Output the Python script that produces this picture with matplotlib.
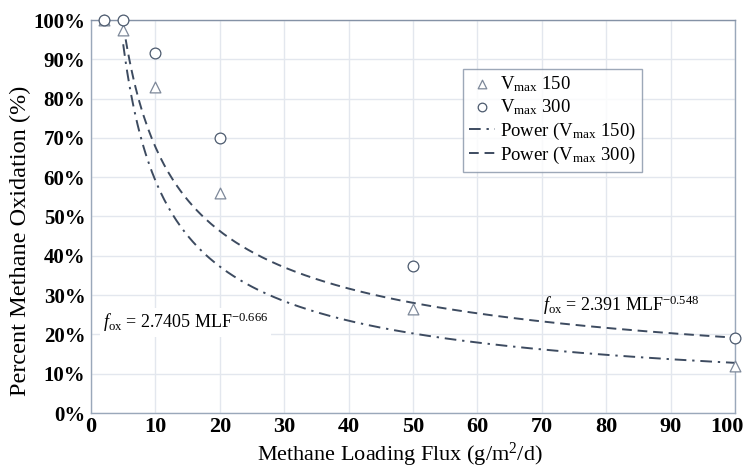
import numpy as np
import matplotlib.pyplot as plt
import matplotlib.transforms as mtransforms
from matplotlib.ticker import FuncFormatter, MultipleLocator

plt.rcParams.update({'font.family': 'serif', 'font.serif': ['Liberation Serif', 'DejaVu Serif'],
                     'mathtext.fontset': 'custom', 'mathtext.rm': 'Liberation Serif',
                     'mathtext.it': 'Liberation Serif:italic', 'axes.unicode_minus': False})

LINE_COLOR = '#3d4b60'
GRID_COLOR = '#e3e7ee'
SPINE_COLOR = '#9aa8ba'

# measured points (methane loading flux g/m2/d vs % oxidation)
mlf = [2, 5, 10, 20, 50, 100]
vmax150 = [100, 97.5, 83, 56, 26.5, 12]
vmax300 = [100, 100, 91.5, 70, 37.5, 19]

# power trendlines as printed on the chart: f_ox = a * MLF^b
fit150 = (2.7405, -0.666)
fit300 = (2.391, -0.548)
fit_range = (5, 100)

W, H = 747, 469
fig = plt.figure(figsize=(W / 100, H / 100), dpi=100)
ax = fig.add_axes([91 / W, 1 - 413 / H, 644 / W, 393 / H])

ax.grid(True, color=GRID_COLOR, linewidth=1.0)
ax.set_axisbelow(True)
for s in ax.spines.values():
    s.set_color(SPINE_COLOR)
    s.set_linewidth(1.0)
ax.spines['top'].set_color('#8592a6')

xf = np.linspace(fit_range[0], fit_range[1], 300)
ax.plot(xf, 100 * fit150[0] * xf ** fit150[1], color=LINE_COLOR, lw=1.4,
        linestyle=(0, (6, 3, 1.2, 3)), label=r'Power ($\mathregular{V_{max}}$ 150)', zorder=2)
ax.plot(xf, 100 * fit300[0] * xf ** fit300[1], color=LINE_COLOR, lw=1.4,
        linestyle=(0, (5, 3)), label=r'Power ($\mathregular{V_{max}}$ 300)', zorder=2)

ax.scatter(mlf, vmax150, marker='^', s=60, facecolor='white', edgecolor='#7d8899',
           linewidth=0.9, label=r'$\mathregular{V_{max}}$ 150', zorder=3, clip_on=False)
ax.scatter(mlf, vmax300, marker='o', s=60, facecolor='white', edgecolor='#4c5a6e',
           linewidth=0.9, label=r'$\mathregular{V_{max}}$ 300', zorder=3, clip_on=False)

ax.set_xlim(0, 100)
ax.set_ylim(0, 100)
ax.set_xticks(range(0, 101, 10))
ax.yaxis.set_major_locator(MultipleLocator(10))
ax.yaxis.set_major_formatter(FuncFormatter(lambda v, p: f'{v:.0f}%'))
ax.tick_params(length=0, labelsize=15, pad=4)
ax.tick_params(axis='x', labelsize=16, pad=3)
for t in ax.get_xticklabels() + ax.get_yticklabels():
    t.set_fontweight('bold')
# last x label sits at the figure edge, pull it in a touch
last = ax.xaxis.get_major_ticks()[-1].label1
last.set_transform(last.get_transform() + mtransforms.ScaledTranslation(-8 / 100, 0, fig.dpi_scale_trans))

fig.text(400 / W, 1 - 455 / H, r'Methane Loading Flux (g/m$^{2}$/d)', fontsize=16,
         ha='center', va='center')
fig.text(20 / W, 1 - 241 / H, 'Percent Methane Oxidation (%)', fontsize=17.5,
         ha='center', va='center', rotation=90)

ax.text(1.8, 23, r'$\mathit{f}_{\mathregular{ox}}$ = 2.7405 MLF$^{\mathregular{-0.666}}$', fontsize=13,
        ha='left', va='center', bbox=dict(facecolor='white', edgecolor='none', pad=2), zorder=4)
ax.text(70.2, 27.5, r'$\mathit{f}_{\mathregular{ox}}$ = 2.391 MLF$^{\mathregular{-0.548}}$', fontsize=13,
        ha='left', va='center', zorder=4)

h, l = ax.get_legend_handles_labels()
order = [2, 3, 0, 1]
leg = ax.legend([h[i] for i in order], [l[i] for i in order], loc='upper left',
                bbox_to_anchor=(0.563, 0.9), fontsize=13.5, frameon=True, fancybox=False,
                edgecolor='#8592a6', handlelength=1.4, handletextpad=0.3, labelspacing=0.18,
                borderpad=0.3, markerscale=0.8)
leg.get_frame().set_linewidth(1.0)

fig.savefig('out.png', dpi=100)
